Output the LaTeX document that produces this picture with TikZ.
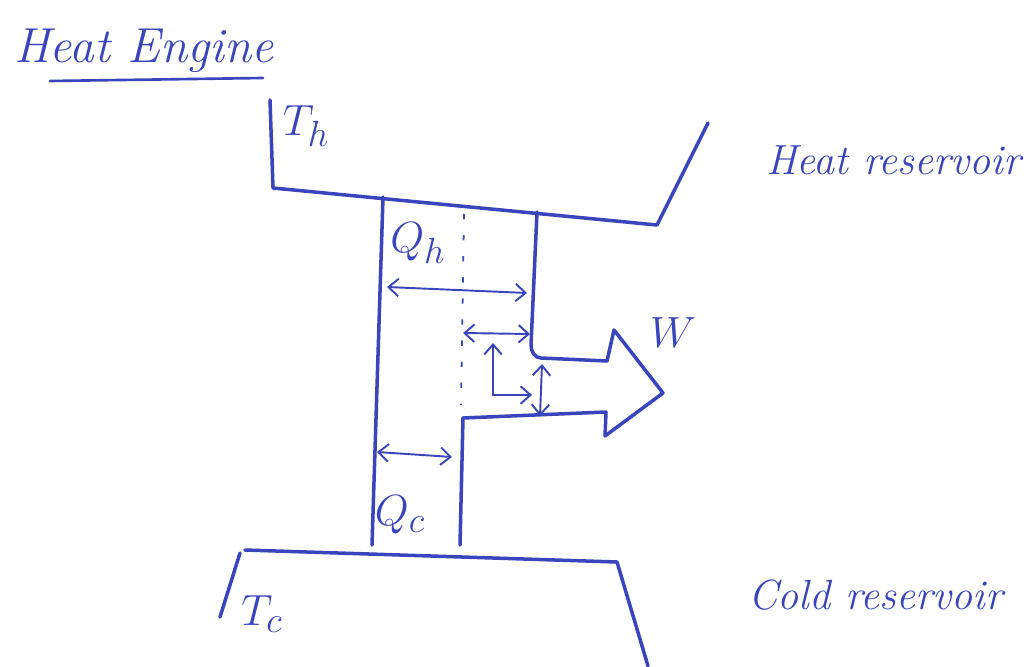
\documentclass[tikz,border=0pt]{standalone}
\usetikzlibrary{arrows.meta}
\definecolor{ink}{RGB}{58,68,188}
\begin{document}
\begin{tikzpicture}[x=0.02cm, y=-0.02cm,
  wall/.style={ink, line width=2pt, line join=round, line cap=round},
  gap/.style={ink, line width=1.1pt,
    {Straight Barb[length=2mm,width=3.5mm]}-{Straight Barb[length=2mm,width=3.5mm]}},
  lbl/.style={ink, font=\fontsize{24}{28}\selectfont\itshape},
  sym/.style={ink, font=\Huge}]
  \useasboundingbox (0,0) rectangle (1034,666);
  \node[lbl, font=\fontsize{28}{32}\selectfont\itshape, anchor=base west] (title) at (8,62) {Heat Engine};
  \coordinate (ul1) at (50,81);
  \coordinate (ul2) at (263,78);
  \draw[ink, line width=1.5pt, line cap=round] (ul1) -- (ul2);
  \draw[wall] (270,100) -- (273,188) -- (657,225) -- (708,123);
  \node[sym] (th) at (306,126) {$T_h$};
  \node[lbl, anchor=west] (hot) at (760,160) {Heat reservoir};
  \draw[wall] (383,197) -- (372,545);
  \draw[wall] (537,212) -- (531,345) to[out=-90,in=180] (541,358) -- (607,361)
    -- (614,330) -- (663,393) -- (605,436) -- (606,412) -- (463,418) -- (460,545);
  \draw[ink, line width=1pt, dash pattern=on 3pt off 9pt] (464,214) -- (461,405);
  \node[sym] (qh) at (418,243) {$Q_h$};
  \node[sym] (w) at (673,333) {$W$};
  \node[sym] (qc) at (400,515) {$Q_c$};
  \coordinate (qh1) at (387,287);
  \coordinate (qh2) at (527,293);
  \coordinate (wa1) at (463,333);
  \coordinate (wa2) at (530,334);
  \coordinate (wb1) at (493,343);
  \coordinate (wb2) at (532,395);
  \coordinate (wc1) at (542,364);
  \coordinate (wc2) at (540,416);
  \coordinate (qc1) at (377,452);
  \coordinate (qc2) at (452,457);
  \draw[gap] (qh1) -- (qh2);
  \draw[gap] (wa1) -- (wa2);
  \draw[gap] (wb1) |- (wb2);
  \draw[gap] (wc1) -- (wc2);
  \draw[gap] (qc1) -- (qc2);
  \draw[wall] (240,553) -- (220,617);
  \draw[wall] (245,550) -- (617,562) -- (648,666);
  \node[sym] (tc) at (262,614) {$T_c$};
  \node[lbl, anchor=west] (cold) at (742,595) {Cold reservoir};
\end{tikzpicture}
\end{document}
